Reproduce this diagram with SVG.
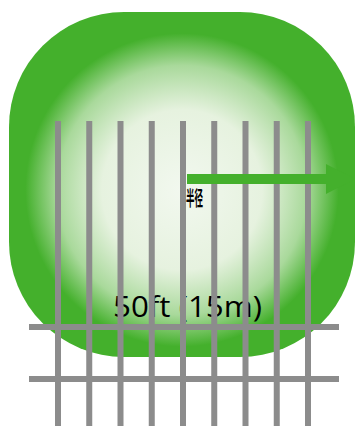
<svg xmlns="http://www.w3.org/2000/svg" width="356" height="426" viewBox="0 0 356 426">
<defs>
<radialGradient id="g" cx="182" cy="190" r="178" gradientUnits="userSpaceOnUse">
<stop offset="0" stop-color="#f2f8ef"/>
<stop offset="0.45" stop-color="#e6f2df"/>
<stop offset="0.7" stop-color="#a9d99b"/>
<stop offset="0.88" stop-color="#44b02c"/>
<stop offset="1" stop-color="#44b02c"/>
</radialGradient>
<style>
.bar{fill:#8c8c8c}
.lbl{font-family:"Open Sans","Liberation Sans",sans-serif;fill:#000}
</style>
</defs>
<g id="zone">
<rect x="9" y="12" width="346" height="345" rx="115" ry="115" fill="url(#g)"/>
</g>
<g id="label">
<text class="lbl" x="113" y="317" font-size="29" textLength="149" lengthAdjust="spacingAndGlyphs">50ft (15m)</text>
</g>
<g id="fence">
<rect class="bar" x="55" y="121" width="6" height="305"/>
<rect class="bar" x="86.25" y="121" width="6" height="305"/>
<rect class="bar" x="117.5" y="121" width="6" height="305"/>
<rect class="bar" x="148.75" y="121" width="6" height="305"/>
<rect class="bar" x="180" y="121" width="6" height="305"/>
<rect class="bar" x="211.25" y="121" width="6" height="305"/>
<rect class="bar" x="242.5" y="121" width="6" height="305"/>
<rect class="bar" x="273.75" y="121" width="6" height="305"/>
<rect class="bar" x="305" y="121" width="6" height="305"/>
<rect class="bar" x="29" y="324" width="310" height="6"/>
<rect class="bar" x="29" y="376" width="310" height="6"/>
</g>
<g id="connectors">
<rect x="187" y="174" width="140" height="10" fill="#44b02c"/>
<polygon points="326,164 355,179 326,194" fill="#44b02c"/>
</g>
<g id="marker-label">
<text x="186" y="206" font-family="'Noto Sans CJK SC',sans-serif" font-weight="bold" font-size="20" textLength="17" lengthAdjust="spacingAndGlyphs" fill="#000">半径</text>
</g>
</svg>
